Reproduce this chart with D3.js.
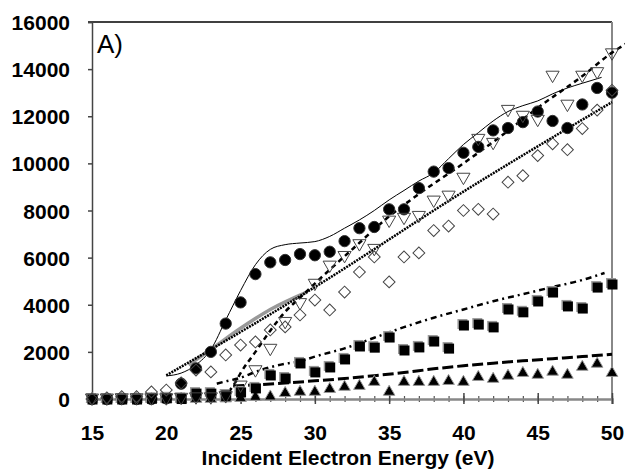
<!DOCTYPE html>
<html>
<head>
<meta charset="utf-8">
<script src="https://cdn.jsdelivr.net/npm/d3@7"></script>
<style>
body { margin: 0; background: #fff; }
text { font-family: "Liberation Sans", Arial, sans-serif; }
.tick-label { font-size: 21px; font-weight: bold; fill: #000; }
</style>
</head>
<body>
<div id="chart"></div>
<script>
var energy = d3.range(15, 51)

// measured points (index matches energy 15..50)
var circles = [0,0,0,0,0,30,650,1300,2000,3200,4100,5300,5800,5900,6150,6100,6250,6700,7250,7300,
	8050,8050,8950,9650,9800,10450,10700,11400,11500,11750,12200,11800,11500,12500,13200,13000]
var triDown = [50,50,60,60,60,60,80,100,100,150,600,1250,2160,3300,4100,4920,5690,6100,6600,6400,
	7600,7720,7800,8450,8660,9420,11070,10900,12300,12050,11880,13750,12520,13750,13900,14700]
var diamonds = [0,50,100,100,300,380,680,1230,1150,1870,2290,2420,2930,3060,3565,4200,3780,4540,5390,6030,
	4970,6030,6200,7150,7340,8000,8050,7850,9200,9480,10330,10830,10580,11480,12260,13100]
var squares = [0,0,0,0,30,50,20,250,250,170,300,470,1020,890,1530,1150,1360,1700,2250,2200,
	2630,2080,2210,2460,2160,3140,3180,3060,3820,3700,4160,4540,3950,3860,4750,4880]
var triUp = [0,0,0,0,0,0,0,0,0,20,40,85,100,250,300,300,420,510,550,720,
	300,720,720,720,760,720,930,850,980,1100,1020,1150,1020,1360,1490,1100]

// model curves [energy, value]
var curveSolid = [[20,980],[21,1100],[22,1450],[23,2100],[24,3350],[25,4600],[26,5700],[27,6350],[28,6550],
	[29,6620],[30,6680],[31,6900],[32,7250],[33,7600],[34,8000],[35,8450],[36,8850],[37,9250],[38,9600],
	[39,10200],[40,10800],[41,11300],[42,11800],[43,12200],[44,12450],[45,12650],[46,12950],[47,13200],
	[48,13400],[49.3,13650]]
var curveDashed = [[24.2,300],[24.6,650],[25,1100],[26,2000],[27,2900],[28,3700],[29,4300],[30,4900],
	[32.6,6400],[35,7750],[37,8700],[40,10000],[42.3,11050],[45.2,12450],[48.1,13750],[50,14700],[51,15100]]
var curveDotted = [[20,1000],[23,2100],[30,4750],[40,8800],[50,12600]]
var curveGray = [[21.5,1450],[23,2100],[25,3000],[27,3800],[29.5,4550]]
var curveDashDot = [[23.4,650],[24,750],[25,900],[26,1150],[27,1350],[28,1500],[29,1600],[30,1800],
	[32,2150],[34,2600],[36,3050],[38,3450],[40,3800],[42,4150],[44,4450],[46,4750],[48,5050],[49.5,5350]]
var curveLongDash = [[24.5,550],[26,600],[28,680],[30,770],[32,870],[34,990],[36,1120],[38,1280],
	[40,1410],[42,1520],[44,1620],[46,1710],[48,1800],[50,1900]]

var xTicks = [15,20,25,30,35,40,45,50]
var yTicks = [0,2000,4000,6000,8000,10000,12000,14000,16000]

var W = 625, H = 470
var margin = { top: 22, right: 13, bottom: 71, left: 92 }

var svg = d3.select('#chart').append('svg')
	.attr('width', W)
	.attr('height', H)

var x = d3.scaleLinear().domain([15, 50]).range([margin.left, W - margin.right])
var y = d3.scaleLinear().domain([0, 16000]).range([H - margin.bottom, margin.top])

var clip = svg.append('clipPath').attr('id', 'clip')
	.append('rect')
	.attr('x', margin.left).attr('y', 0)
	.attr('width', W - margin.left).attr('height', H - margin.bottom + 3)

// frame
svg.append('line')
	.attr('x1', margin.left - 4).attr('x2', x(50))
	.attr('y1', y(16000)).attr('y2', y(16000))
	.style('stroke', '#000').style('stroke-width', 1.5)
svg.append('line')
	.attr('x1', x(50)).attr('x2', x(50))
	.attr('y1', y(16000)).attr('y2', y(0))
	.style('stroke', '#888').style('stroke-width', 2)

// y axis
var yAxis = svg.append('g')
	.attr('transform', 'translate(' + margin.left + ',0)')
	.call(d3.axisLeft(y).tickValues(yTicks).tickSize(4).tickPadding(18).tickFormat(d3.format('d')))
yAxis.select('.domain').style('stroke', '#444').style('stroke-width', 1.5)
yAxis.selectAll('.tick line').style('stroke', '#444').style('stroke-width', 1.5)
yAxis.selectAll('.tick text').attr('class', 'tick-label').attr('dy', '0.36em')

// x axis, minor ticks each eV
var xMinor = svg.append('g')
	.attr('transform', 'translate(0,' + (y(0) - 3) + ')')
	.call(d3.axisBottom(x).tickValues(energy).tickSize(6).tickFormat(''))
xMinor.select('.domain').remove()
xMinor.selectAll('.tick line').style('stroke', '#555').style('stroke-width', 1.2)

var xAxis = svg.append('g')
	.attr('transform', 'translate(0,' + y(0) + ')')
	.call(d3.axisBottom(x).tickValues(xTicks).tickSize(5))
xAxis.select('.domain').style('stroke', '#888').style('stroke-width', 2.5)
xAxis.selectAll('.tick line').style('stroke', '#444').style('stroke-width', 1.5).attr('y1', -6)
xAxis.selectAll('.tick text').attr('class', 'tick-label').attr('y', 41).attr('dy', 0)

svg.append('text')
	.attr('x', (x(15) + x(50)) / 2 - 4)
	.attr('y', 465)
	.attr('text-anchor', 'middle')
	.style('font-size', '21px')
	.style('font-weight', 'bold')
	.text('Incident Electron Energy (eV)')

svg.append('text')
	.attr('x', 97)
	.attr('y', 53)
	.style('font-size', '26px')
	.text('A)')

// model lines
var line = d3.line()
	.x(function(d) { return x(d[0]) })
	.y(function(d) { return y(d[1]) })
	.curve(d3.curveMonotoneX)

var lines = svg.append('g').attr('clip-path', 'url(#clip)')

var drawLine = function(data, stroke, width, dash) {
	lines.append('path')
		.datum(data)
		.attr('d', line)
		.style('fill', 'none')
		.style('stroke', stroke)
		.style('stroke-width', width)
		.style('stroke-dasharray', dash)
}

drawLine(curveGray, '#999', 3.5, null)
drawLine(curveDotted, '#000', 2.5, '2,1')
drawLine(curveSolid, '#000', 1, null)
drawLine(curveDashed, '#000', 2.5, '5,4')
drawLine(curveDashDot, '#000', 2.5, '6,4,2,4')
drawLine(curveLongDash, '#000', 3, '11,4')

// data markers
var pts = function(vals) {
	return vals.map(function(v, i) { return [energy[i], v] })
}
var marks = svg.append('g')

var sym = function(data, type, size, fill, stroke, rot) {
	marks.append('g').selectAll('path')
		.data(pts(data))
		.enter().append('path')
		.attr('d', d3.symbol().type(type).size(size))
		.attr('transform', function(d) {
			return 'translate(' + x(d[0]) + ',' + y(d[1]) + ')' + (rot ? ' rotate(' + rot + ')' : '')
		})
		.style('fill', fill)
		.style('stroke', stroke)
		.style('stroke-width', 1)
}

sym(circles, d3.symbolCircle, 100, '#000', '#333', 0)
sym(triUp, d3.symbolTriangle, 58, '#000', '#999', 0)
// squares with a grey offset edge
marks.append('g').selectAll('rect')
	.data(pts(squares))
	.enter().append('rect')
	.attr('x', function(d) { return x(d[0]) - 6 })
	.attr('y', function(d) { return y(d[1]) - 6 })
	.attr('width', 10).attr('height', 10)
	.style('fill', '#999')
marks.append('g').selectAll('rect')
	.data(pts(squares))
	.enter().append('rect')
	.attr('x', function(d) { return x(d[0]) - 4.5 })
	.attr('y', function(d) { return y(d[1]) - 4.5 })
	.attr('width', 10).attr('height', 10)
	.style('fill', '#000')
sym(triDown, d3.symbolTriangle, 75, 'none', '#444', 180)
sym(diamonds, d3.symbolSquare, 70, 'none', '#444', 45)
</script>
</body>
</html>
